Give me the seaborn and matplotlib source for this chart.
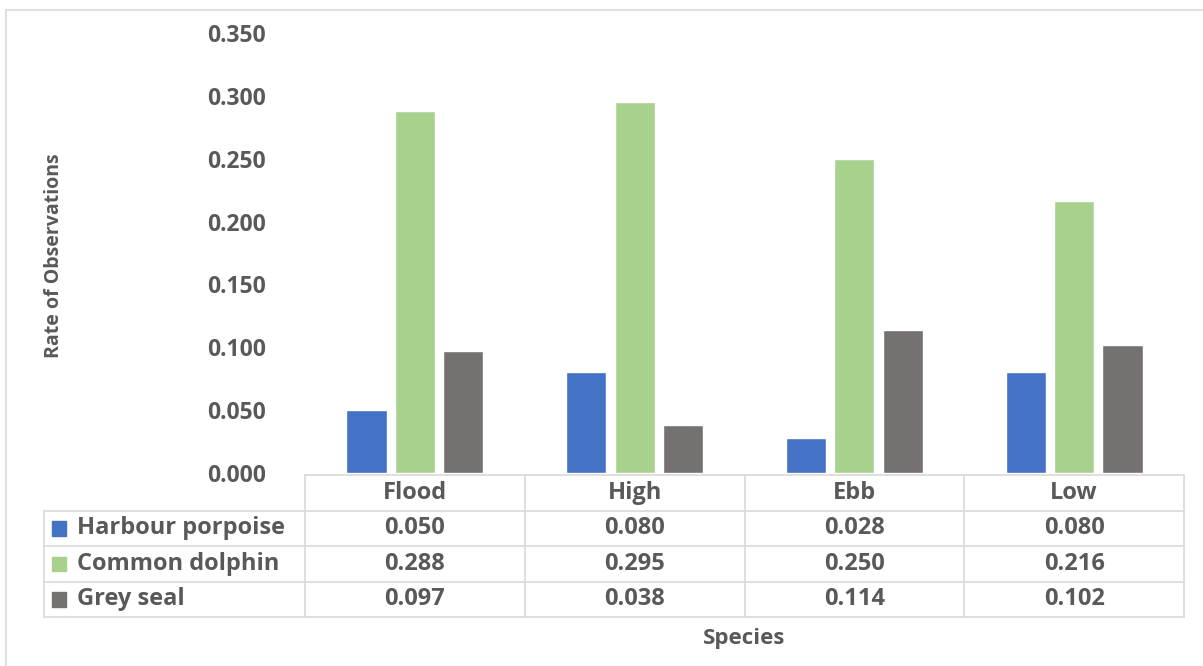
import numpy as np
import pandas as pd
import matplotlib
matplotlib.use("Agg")
import matplotlib.pyplot as plt
import matplotlib.transforms as mtransforms
from matplotlib.lines import Line2D
from matplotlib.patches import Rectangle
import seaborn as sns

# data
tides = ["Flood", "High", "Ebb", "Low"]
species = ["Harbour porpoise", "Common dolphin", "Grey seal"]
harbour_porpoise = [0.050, 0.080, 0.028, 0.080]
common_dolphin = [0.288, 0.295, 0.250, 0.216]
grey_seal = [0.097, 0.038, 0.114, 0.102]
colors = ["#4472C4", "#A9D18E", "#767171"]
yticks = [0.0, 0.05, 0.10, 0.15, 0.20, 0.25, 0.30, 0.35]

series = {"Harbour porpoise": harbour_porpoise,
          "Common dolphin": common_dolphin,
          "Grey seal": grey_seal}
df = pd.DataFrame([
    {"tide": t, "species": s, "rate": v}
    for s in species for t, v in zip(tides, series[s])
])

sns.set_style("white")
plt.rcParams["font.family"] = ["Open Sans", "DejaVu Sans"]
txt = "#595959"
grid = "#D9D9D9"

W, H = 1203, 666
fig = plt.figure(figsize=(W / 100, H / 100), dpi=100)
ax = fig.add_axes([305 / W, 1 - 473 / H, (1184 - 305) / W, (473 - 33) / H])

sns.barplot(data=df, x="tide", y="rate", hue="species", order=tides,
            hue_order=species, palette=colors, width=0.66, gap=0.17,
            saturation=1, ax=ax, legend=False)

ax.set_xlim(-0.5, len(tides) - 0.5)
ax.set_ylim(0, 0.35)
ax.set_yticks(yticks)
ax.set_yticklabels([f"{v:.3f}" for v in yticks], fontsize=16.5,
                   fontweight="bold", color=txt)
ax.tick_params(axis="y", length=0, pad=28)
ax.set_xticks([])
for sp in ax.spines.values():
    sp.set_visible(False)

ax.set_ylabel("Rate of Observations", fontsize=14, color=txt,
              fontweight="bold")
ax.yaxis.set_label_coords(-0.274, 0.495)
ax.set_xlabel("Species", fontsize=16, fontweight="bold", color=txt)
ax.xaxis.set_label_coords(0.5, -0.352)

# data table under the axes
trans = mtransforms.blended_transform_factory(ax.transData, ax.transAxes)
px_x = 1 / 219.75
rh = 0.0807
top = -0.005
left = -0.5 + (44 - 305) * px_x
right = len(tides) - 0.5
rows = [top - rh * i for i in range(5)]

def hline(x0, x1, y):
    ax.add_line(Line2D([x0, x1], [y, y], transform=trans, color=grid,
                       lw=1.2, clip_on=False))

def vline(x, y0, y1):
    ax.add_line(Line2D([x, x], [y0, y1], transform=trans, color=grid,
                       lw=1.2, clip_on=False))

hline(-0.5, right, rows[0])
for y in rows[1:]:
    hline(left, right, y)
vline(left, rows[1], rows[4])
for i in range(len(tides) + 1):
    vline(i - 0.5, rows[0], rows[4])

for i, t in enumerate(tides):
    ax.text(i, (rows[0] + rows[1]) / 2, t, transform=trans, ha="center",
            va="center", fontsize=17, fontweight="bold", color=txt)

for r, (s, c) in enumerate(zip(species, colors)):
    yc = (rows[r + 1] + rows[r + 2]) / 2
    ax.add_patch(Rectangle((left + 8 * px_x, yc - 0.016), 14 * px_x, 0.032,
                           transform=trans, color=c, clip_on=False))
    ax.text(left + 33 * px_x, yc, s, transform=trans, ha="left",
            va="center", fontsize=17, fontweight="bold", color=txt)
    for i, v in enumerate(series[s]):
        ax.text(i, yc, f"{v:.3f}", transform=trans, ha="center",
                va="center", fontsize=17, fontweight="bold", color=txt)

# chart area border (only top and left visible in the crop)
fig.add_artist(Line2D([6 / W, 1], [1 - 10 / H, 1 - 10 / H],
                      transform=fig.transFigure, color=grid, lw=1.2))
fig.add_artist(Line2D([6 / W, 6 / W], [0, 1 - 10 / H],
                      transform=fig.transFigure, color=grid, lw=1.2))

fig.savefig("out.png", dpi=100, facecolor="white")
